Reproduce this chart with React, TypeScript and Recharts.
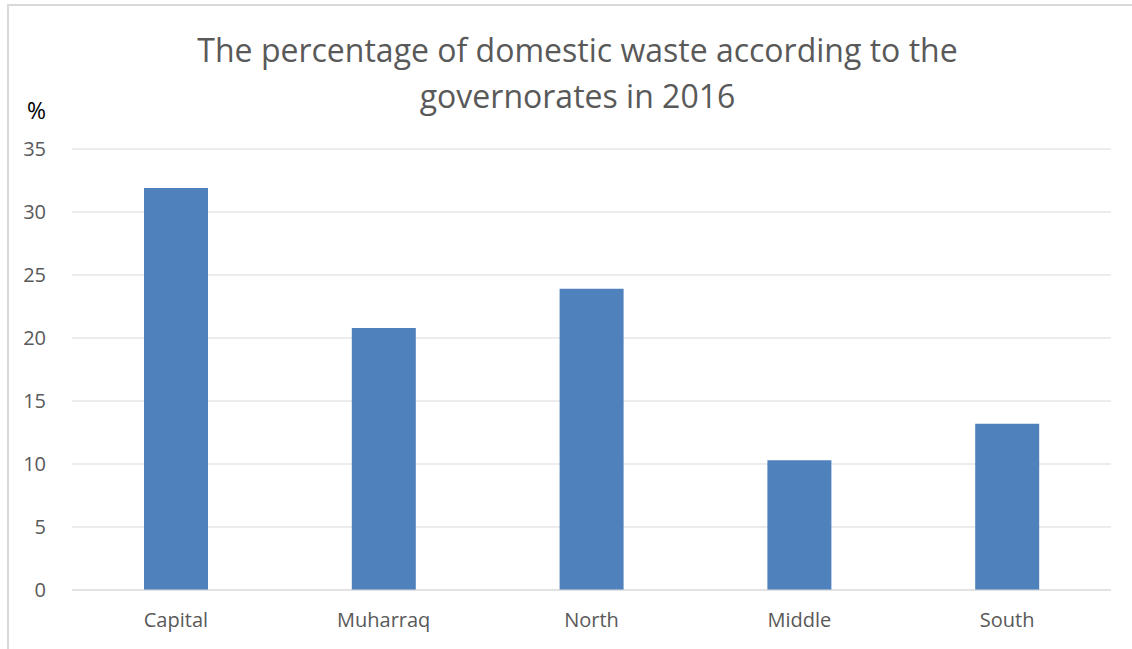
import { BarChart, Bar, XAxis, YAxis, CartesianGrid } from 'recharts';

const governorates = ['Capital', 'Muharraq', 'North', 'Middle', 'South'];
const wastePercent = [31.9, 20.8, 23.9, 10.3, 13.2];
const yTicks = [0, 5, 10, 15, 20, 25, 30, 35];

const chartData = governorates.map((name, i) => ({ name, value: wastePercent[i] }));

const FONT = '"Open Sans", "Noto Sans", sans-serif';

export default function App() {
    return (
        <div
            style={{
                position: 'absolute',
                left: 0,
                top: 0,
                width: 1132,
                height: 649,
                background: '#fff',
                fontFamily: FONT,
                overflow: 'hidden',
            }}
        >
            {/* outer chart frame */}
            <div
                style={{
                    position: 'absolute',
                    left: 7,
                    top: 4,
                    width: 1140,
                    height: 660,
                    borderLeft: '2px solid #d9d9d9',
                    borderTop: '2px solid #d9d9d9',
                }}
            />
            <div
                style={{
                    position: 'absolute',
                    left: 0,
                    width: 1155,
                    top: 27,
                    textAlign: 'center',
                    fontSize: 32,
                    lineHeight: '46px',
                    color: '#595959',
                }}
            >
                The percentage of domestic waste according to the
                <br />
                governorates in 2016
            </div>
            <div
                style={{
                    position: 'absolute',
                    left: 27,
                    top: 95,
                    fontSize: 23,
                    lineHeight: '30px',
                    color: '#000',
                }}
            >
                %
            </div>
            <BarChart
                width={1132}
                height={649}
                data={chartData}
                margin={{ top: 149, right: 21, left: 0, bottom: 0 }}
                barSize={64}
            >
                <CartesianGrid vertical={false} stroke="#d9d9d9" strokeWidth={1} />
                <XAxis
                    dataKey="name"
                    height={59}
                    axisLine={{ stroke: '#d9d9d9' }}
                    tickLine={false}
                    tick={{ fontSize: 20, fill: '#595959', fontFamily: FONT }}
                    tickMargin={17}
                />
                <YAxis
                    width={72}
                    domain={[0, 35]}
                    ticks={yTicks}
                    axisLine={false}
                    tickLine={false}
                    tick={{ fontSize: 20, fill: '#595959', fontFamily: FONT }}
                    tickMargin={20}
                />
                <Bar dataKey="value" fill="#4f81bd" isAnimationActive={false} />
            </BarChart>
        </div>
    );
}
